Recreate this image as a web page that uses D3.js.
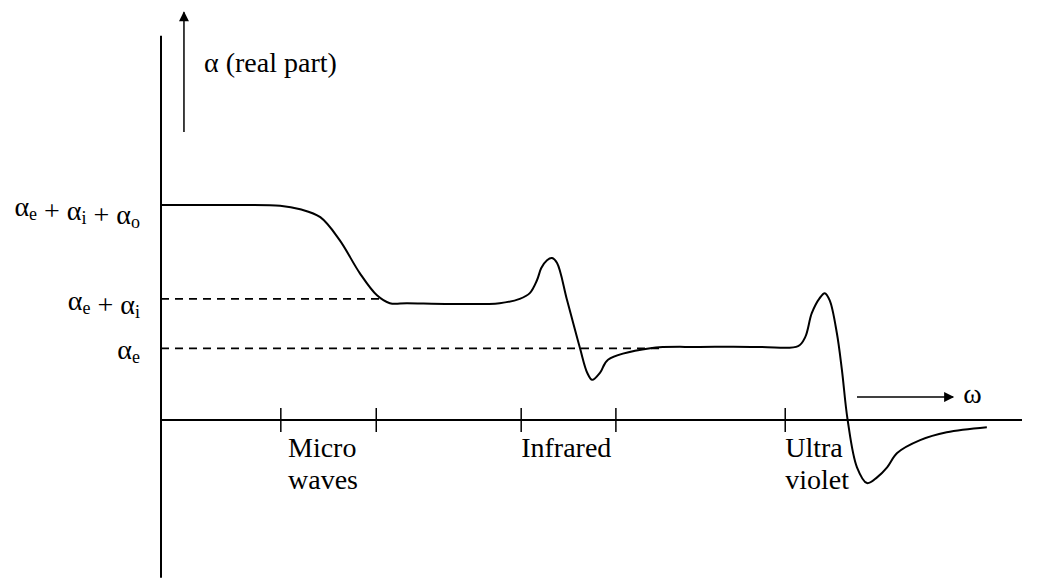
<!DOCTYPE html>
<html>
<head>
<meta charset="utf-8">
<script src="https://cdn.jsdelivr.net/npm/d3@7"></script>
<style>
  body { margin: 0; background: #fff; }
</style>
</head>
<body>
<div id="chart"></div>
<script>
// polarizability (real part) vs frequency
var omega = [0, 0.96, 1.66, 1.94, 2.22, 2.49, 2.77, 3.01, 3.19, 3.43, 4.03, 4.72, 5.00, 5.14, 5.24, 5.30, 5.38, 5.45, 5.52, 5.66, 5.84, 5.94, 6.01, 6.12, 6.23, 6.82, 7.51, 8.35, 8.88, 8.98, 9.07, 9.18, 9.25, 9.32, 9.42, 9.49, 9.57, 9.70, 9.84, 9.98, 10.12, 10.26, 10.58, 10.95, 11.51];
var alpha = [3.00, 3.00, 2.99, 2.94, 2.83, 2.51, 2.05, 1.74, 1.63, 1.63, 1.62, 1.63, 1.69, 1.77, 1.95, 2.12, 2.23, 2.26, 2.19, 1.67, 1.00, 0.66, 0.56, 0.66, 0.84, 1.00, 1.02, 1.02, 1.03, 1.16, 1.49, 1.70, 1.77, 1.67, 1.21, 0.70, 0, -0.66, -0.88, -0.80, -0.66, -0.46, -0.28, -0.17, -0.10];

var bandTicks = [1.67, 3.0, 5.02, 6.34, 8.70];
var bandLabels = [
  { x: 1.77, lines: ["Micro", "waves"] },
  { x: 5.02, lines: ["Infrared"] },
  { x: 8.70, lines: ["Ultra", "violet"] }
];

// levels: value, where the dashed guide stops, label parts [base, subscript]
var levels = [
  { v: 3.00, end: null, parts: [["α", "e"], [" + α", "i"], [" + α", "o"]] },
  { v: 1.69, end: 3.12, parts: [["α", "e"], [" + α", "i"]] },
  { v: 1.00, end: 6.95, parts: [["α", "e"]] }
];

var width = 1037,
    height = 584,
    font = "'Liberation Serif', 'Times New Roman', Times, 'DejaVu Serif', serif";

var x = d3.scaleLinear().domain([0, 12]).range([161, 1022]);
var y = d3.scaleLinear().domain([0, 3]).range([420, 205]);

var svg = d3.select("#chart").append("svg")
    .attr("width", width)
    .attr("height", height)
    .attr("font-family", font);

svg.append("defs").append("marker")
    .attr("id", "head")
    .attr("viewBox", "0 0 10 10")
    .attr("refX", 9)
    .attr("refY", 5)
    .attr("markerUnits", "userSpaceOnUse")
    .attr("markerWidth", 12)
    .attr("markerHeight", 10)
    .attr("orient", "auto")
  .append("path")
    .attr("d", "M0,0L10,5L0,10Z")
    .attr("fill", "#000");

// axes
svg.append("line")
    .attr("x1", x(0)).attr("x2", x(0))
    .attr("y1", y(-2.2)).attr("y2", y(5.36))
    .attr("stroke", "#000").attr("stroke-width", 2);

svg.append("line")
    .attr("x1", x(0)).attr("x2", x(12))
    .attr("y1", y(0)).attr("y2", y(0))
    .attr("stroke", "#000").attr("stroke-width", 2);

svg.selectAll(".band-tick").data(bandTicks)
  .enter().append("line")
    .attr("class", "band-tick")
    .attr("x1", function(d) { return x(d); })
    .attr("x2", function(d) { return x(d); })
    .attr("y1", y(0) - 12).attr("y2", y(0) + 12)
    .attr("stroke", "#000").attr("stroke-width", 1.5);

svg.selectAll(".band-label").data(bandLabels)
  .enter().append("text")
    .attr("class", "band-label")
    .attr("font-size", 28)
    .each(function(d) {
      var t = d3.select(this);
      d.lines.forEach(function(s, i) {
        t.append("tspan")
          .attr("x", x(d.x))
          .attr("y", y(0) + 37 + i * 32)
          .text(s);
      });
    });

// dashed guides
svg.selectAll(".guide").data(levels.filter(function(d) { return d.end; }))
  .enter().append("line")
    .attr("class", "guide")
    .attr("x1", x(0))
    .attr("x2", function(d) { return x(d.end); })
    .attr("y1", function(d) { return y(d.v); })
    .attr("y2", function(d) { return y(d.v); })
    .attr("stroke", "#000")
    .attr("stroke-width", 1.8)
    .attr("stroke-dasharray", "8,6");

svg.selectAll(".level").data(levels)
  .enter().append("text")
    .attr("class", "level")
    .attr("x", x(0) - 21)
    .attr("y", function(d) { return y(d.v) + 11; })
    .attr("text-anchor", "end")
    .attr("font-size", 28)
    .each(function(d) {
      var t = d3.select(this);
      d.parts.forEach(function(p) {
        t.append("tspan").attr("dy", 0).text(p[0]);
        t.append("tspan").attr("dy", 4).attr("font-size", 18).text(p[1]);
        t.append("tspan").attr("dy", -4).text("");
      });
    });

// curve
var points = omega.map(function(d, i) { return [d, alpha[i]]; });
var line = d3.line()
    .x(function(d) { return x(d[0]); })
    .y(function(d) { return y(d[1]); })
    .curve(d3.curveCatmullRom.alpha(0.5));

svg.append("path")
    .datum(points)
    .attr("d", line)
    .attr("fill", "none")
    .attr("stroke", "#000")
    .attr("stroke-width", 2);

// direction arrows
svg.append("line")
    .attr("x1", x(0.32)).attr("x2", x(0.32))
    .attr("y1", y(4.02)).attr("y2", y(5.69))
    .attr("stroke", "#000").attr("stroke-width", 1.5)
    .attr("marker-end", "url(#head)");

svg.append("text")
    .attr("x", x(0.6))
    .attr("y", y(4.85))
    .attr("font-size", 28)
    .text("α (real part)");

svg.append("line")
    .attr("x1", x(9.70)).attr("x2", x(11.04))
    .attr("y1", y(0.32)).attr("y2", y(0.32))
    .attr("stroke", "#000").attr("stroke-width", 1.5)
    .attr("marker-end", "url(#head)");

svg.append("text")
    .attr("x", x(11.18))
    .attr("y", y(0.32) + 6)
    .attr("font-size", 28)
    .text("ω");
</script>
</body>
</html>
